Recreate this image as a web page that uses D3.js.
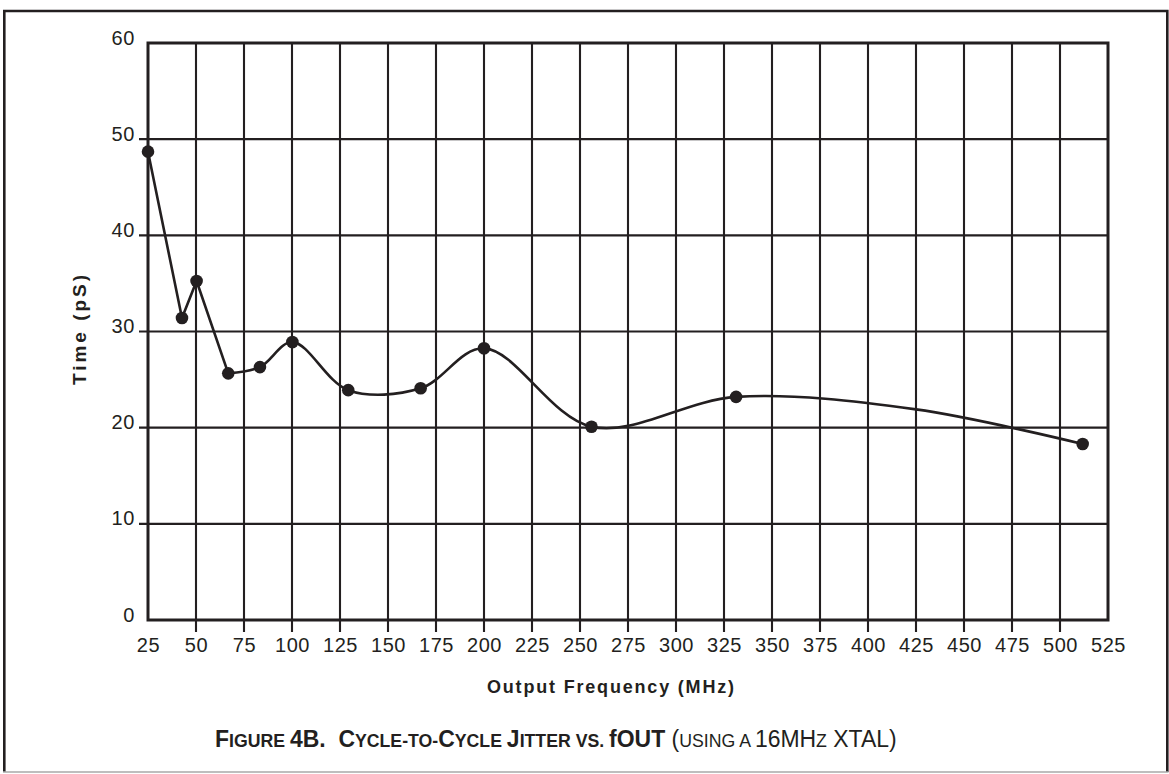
<!DOCTYPE html>
<html>
<head>
<meta charset="utf-8">
<script src="https://cdn.jsdelivr.net/npm/d3@7"></script>
<style>
  html, body { margin: 0; padding: 0; background: #ffffff; }
  svg { display: block; }
  text { font-family: "Liberation Sans", Arial, Helvetica, sans-serif; fill: #231f20; }
</style>
</head>
<body>
<svg id="chart" width="1169" height="774"></svg>
<script>
// ---------------- data ----------------
const freqMHz  = [25, 42.7, 50.3, 66.8, 83.3, 100.2, 129.3, 167, 200, 256, 331.3, 511.8];
const jitterPs = [48.7, 31.4, 35.25, 25.65, 26.3, 28.9, 23.9, 24.1, 28.25, 20.1, 23.2, 18.3];
// unmarked bend of the drawn curve
const bendFreqMHz  = [425];
const bendJitterPs = [21.9];
// the first points are joined by straight segments, the rest by a smooth curve
const straightUntilIndex = 3;

const xTicks = [25, 50, 75, 100, 125, 150, 175, 200, 225, 250, 275, 300, 325, 350, 375, 400, 425, 450, 475, 500, 525];
const yTicks = [0, 10, 20, 30, 40, 50, 60];

const xTitle = "Output Frequency (MHz)";
const yTitle = "Time (pS)";
// caption pieces: [text, size ("L" large / "S" small caps), weight]
const captionParts = [
  ["F", "L", "bold"], ["IGURE ", "S", "bold"], ["4B.  ", "L", "bold"],
  ["C", "L", "bold"], ["YCLE-TO-", "S", "bold"], ["C", "L", "bold"], ["YCLE ", "S", "bold"],
  ["J", "L", "bold"], ["ITTER VS. ", "S", "bold"], ["fOUT ", "L", "bold"],
  ["(", "L", "normal"], ["USING A ", "S", "normal"], ["16MH", "L", "normal"],
  ["Z", "S", "normal"], [" XTAL)", "L", "normal"]
];

// ---------------- drawing ----------------
const ink = "#231f20";
const svg = d3.select("#chart");

// outer frame
svg.append("rect").attr("x", 0).attr("y", 0).attr("width", 1169).attr("height", 774).attr("fill", "#fff");
svg.append("path")
  .attr("d", "M4.3,772 L4.3,11 L1167.3,11 L1167.3,772")
  .attr("fill", "none").attr("stroke", ink).attr("stroke-width", 2.6);
svg.append("line").attr("x1", 3).attr("x2", 1168.5).attr("y1", 772).attr("y2", 772)
  .attr("stroke", "#a8a8a8").attr("stroke-width", 1.6);

const x = d3.scaleLinear().domain([25, 525]).range([148, 1108]);
const y = d3.scaleLinear().domain([0, 60]).range([620, 43]);

const g = svg.append("g");

// vertical grid lines + tick stubs below axis
g.append("g").selectAll("line")
  .data(xTicks.filter(v => v > 25 && v < 525))
  .join("line")
  .attr("x1", d => x(d)).attr("x2", d => x(d))
  .attr("y1", y(60)).attr("y2", y(0) + 12)
  .attr("stroke", ink).attr("stroke-width", 2.1);

// horizontal grid lines + tick stubs left of axis
g.append("g").selectAll("line")
  .data(yTicks.filter(v => v > 0 && v < 60))
  .join("line")
  .attr("x1", x(25) - 9).attr("x2", x(525))
  .attr("y1", d => y(d)).attr("y2", d => y(d))
  .attr("stroke", ink).attr("stroke-width", 2.1);

// plot frame
g.append("rect")
  .attr("x", x(25)).attr("y", y(60))
  .attr("width", x(525) - x(25)).attr("height", y(0) - y(60))
  .attr("fill", "none").attr("stroke", ink).attr("stroke-width", 3);

// x axis labels
const xAxis = d3.axisBottom(x).tickValues(xTicks).tickSize(0).tickFormat(d3.format("d"));
const xg = svg.append("g").attr("transform", `translate(0,${y(0)})`).call(xAxis);
xg.select(".domain").remove();
xg.selectAll("text")
  .attr("y", 32).attr("dy", 0)
  .style("font-size", "20px").style("letter-spacing", "0.6px")
  .attr("fill", ink);

// y axis labels
const yAxis = d3.axisLeft(y).tickValues(yTicks).tickSize(0).tickFormat(d3.format("d"));
const yg = svg.append("g").attr("transform", `translate(${x(25)},0)`).call(yAxis);
yg.select(".domain").remove();
yg.selectAll("text")
  .attr("x", -13).attr("dy", 1)
  .style("font-size", "20px").style("letter-spacing", "0.6px")
  .attr("fill", ink);

// curve: straight segments first, then smooth
const markerPts = freqMHz.map((f, i) => [f, jitterPs[i]]);
const straightPts = markerPts.slice(0, straightUntilIndex + 1);
const smoothPts = markerPts.slice(straightUntilIndex)
  .concat(bendFreqMHz.map((f, i) => [f, bendJitterPs[i]]))
  .sort((a, b) => a[0] - b[0]);

const straightLine = d3.line().x(d => x(d[0])).y(d => y(d[1])).curve(d3.curveLinear);
const smoothLine = d3.line().x(d => x(d[0])).y(d => y(d[1])).curve(d3.curveCatmullRom.alpha(0.5));

svg.append("path")
  .attr("d", straightLine(straightPts))
  .attr("fill", "none").attr("stroke", ink).attr("stroke-width", 2.6)
  .attr("stroke-linejoin", "round");
svg.append("path")
  .attr("d", smoothLine(smoothPts))
  .attr("fill", "none").attr("stroke", ink).attr("stroke-width", 2.6)
  .attr("stroke-linejoin", "round");

// markers
svg.append("g").selectAll("circle")
  .data(markerPts)
  .join("circle")
  .attr("cx", d => x(d[0])).attr("cy", d => y(d[1]))
  .attr("r", 6.3).attr("fill", ink);

// axis titles
svg.append("text")
  .attr("x", 487).attr("y", 693)
  .attr("textLength", 247).attr("lengthAdjust", "spacing")
  .style("font-size", "18px").style("font-weight", "bold")
  .text(xTitle);

svg.append("text")
  .attr("transform", "translate(86,385) rotate(-90)")
  .attr("x", 0).attr("y", 0)
  .attr("textLength", 110).attr("lengthAdjust", "spacing")
  .style("font-size", "19px").style("font-weight", "bold")
  .text(yTitle);

// caption (natural layout, then squeezed horizontally to the reference width)
const capG = svg.append("g");
const cap = capG.append("text")
  .attr("x", 0).attr("y", 0)
  .style("white-space", "pre");
cap.selectAll("tspan")
  .data(captionParts)
  .join("tspan")
  .style("font-size", d => d[1] === "L" ? "24px" : "18.5px")
  .style("font-weight", d => d[2])
  .text(d => d[0]);
const capWidth = cap.node().getComputedTextLength();
const targetWidth = 682;
const sx = targetWidth / capWidth;
capG.attr("transform", `translate(215,747) scale(${sx},1)`);
</script>
</body>
</html>
